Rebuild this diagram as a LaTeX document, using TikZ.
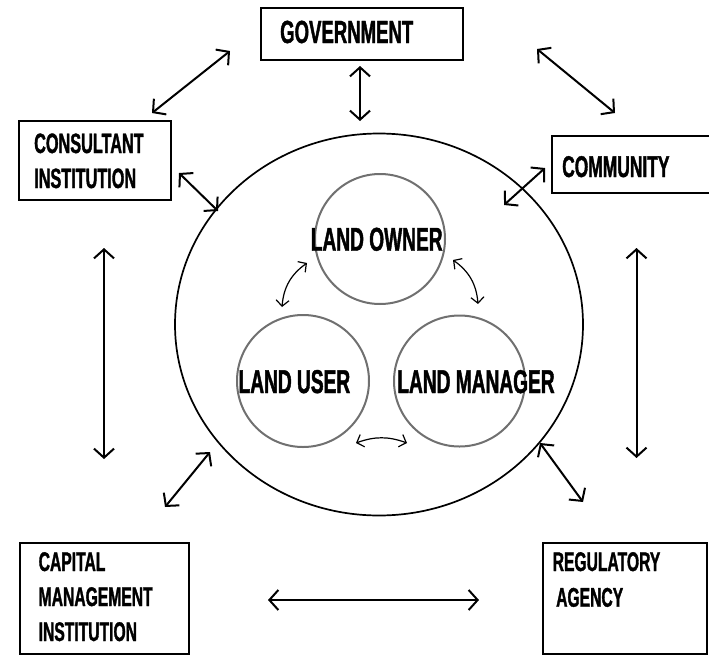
\documentclass[tikz,border=0pt]{standalone}
\usepackage{fontspec}
\newfontfamily\bebas{Liberation Sans}[FakeStretch=0.58,FakeBold=1.2]
\usetikzlibrary{arrows.meta,shapes.geometric}
\definecolor{cgray}{RGB}{112,112,112}
\begin{document}
\begin{tikzpicture}[x=1pt,y=-1pt,
  box/.style={draw, line width=2.4pt, inner sep=0pt, rectangle},
  lbl/.style={font=\bebas\bfseries\fontsize{#1}{#1}\selectfont, inner sep=0pt, anchor=base west},
  clbl/.style={font=\bebas\bfseries\fontsize{#1}{#1}\selectfont, inner sep=0pt, anchor=base},
  inner/.style={draw=cgray, line width=2pt, circle, inner sep=0pt},
  arr/.style={line width=2pt, {Straight Barb[length=9pt,width=20pt]}-{Straight Barb[length=9pt,width=20pt]}},
  iarr/.style={line width=1.2pt, {Straight Barb[length=6pt,width=13pt]}-{Straight Barb[length=6pt,width=13pt]}}
]
\useasboundingbox (0,0) rectangle (709,656);

% boxes
\node[box, minimum width=202pt, minimum height=52pt] (gov) at (362,34) {};
\node[box, minimum width=152pt, minimum height=79pt] (cons) at (95,160.5) {};
\node[box, minimum width=163pt, minimum height=57pt] (comm) at (633.5,164.5) {};
\node[box, minimum width=169pt, minimum height=111pt] (cap) at (104.5,598.5) {};
\node[box, minimum width=164pt, minimum height=111pt] (reg) at (624.8,598.5) {};

% big ellipse and inner circles
\node[draw, ellipse, line width=1.7pt, minimum width=408pt, minimum height=382pt, inner sep=0pt] (big) at (379,324.5) {};
\node[inner, minimum size=130pt] (owner) at (380,239) {};
\node[inner, minimum size=132pt] (user) at (303,381) {};
\node[inner, minimum size=131pt] (manager) at (459.5,381) {};

% labels
\node[lbl=32] (tgov) at (280,43) {GOVERNMENT};
\node[lbl=28] (tcons1) at (34,153) {CONSULTANT};
\node[lbl=28] (tcons2) at (34,188) {INSTITUTION};
\node[lbl=30] (tcomm) at (562,177) {COMMUNITY};
\node[lbl=27] (tcap1) at (38.5,571) {CAPITAL};
\node[lbl=27] (tcap2) at (38.5,606) {MANAGEMENT};
\node[lbl=27] (tcap3) at (38.5,641) {INSTITUTION};
\node[lbl=27] (treg1) at (552.5,571) {REGULATORY};
\node[lbl=27] (treg2) at (556,606.7) {AGENCY};
\node[clbl=33] (towner) at (376.7,250.7) {LAND OWNER};
\node[clbl=33] (tuser) at (294.4,393) {LAND USER};
\node[clbl=33] (tmanager) at (476,393) {LAND MANAGER};

% arrow end points
\coordinate (a1s) at (230,51);   \coordinate (a1e) at (152,113);
\coordinate (a2s) at (360,66);   \coordinate (a2e) at (360,121);
\coordinate (a3s) at (537,49);   \coordinate (a3e) at (615,113);
\coordinate (a4s) at (179,173);  \coordinate (a4e) at (218,211);
\coordinate (a5s) at (545,168);  \coordinate (a5e) at (504,205);
\coordinate (a6s) at (104,248);  \coordinate (a6e) at (104,459);
\coordinate (a7s) at (636.5,248);\coordinate (a7e) at (636.5,458);
\coordinate (a8s) at (210,452);  \coordinate (a8e) at (165,507);
\coordinate (a9s) at (540,443);  \coordinate (a9e) at (583,502);
\coordinate (a10s) at (268,600); \coordinate (a10e) at (479,600);
\coordinate (b1s) at (307,263);  \coordinate (b1e) at (282,307);
\coordinate (b2s) at (453,260);  \coordinate (b2e) at (478,304);
\coordinate (b3s) at (356,443);  \coordinate (b3e) at (407,443);

\foreach \i in {1,...,10} { \draw[arr] (a\i s) -- (a\i e); }
\draw[iarr] (b1s) to[bend right=25] (b1e);
\draw[iarr] (b2s) to[bend left=25] (b2e);
\draw[iarr] (b3s) to[bend left=20] (b3e);
\end{tikzpicture}
\end{document}
